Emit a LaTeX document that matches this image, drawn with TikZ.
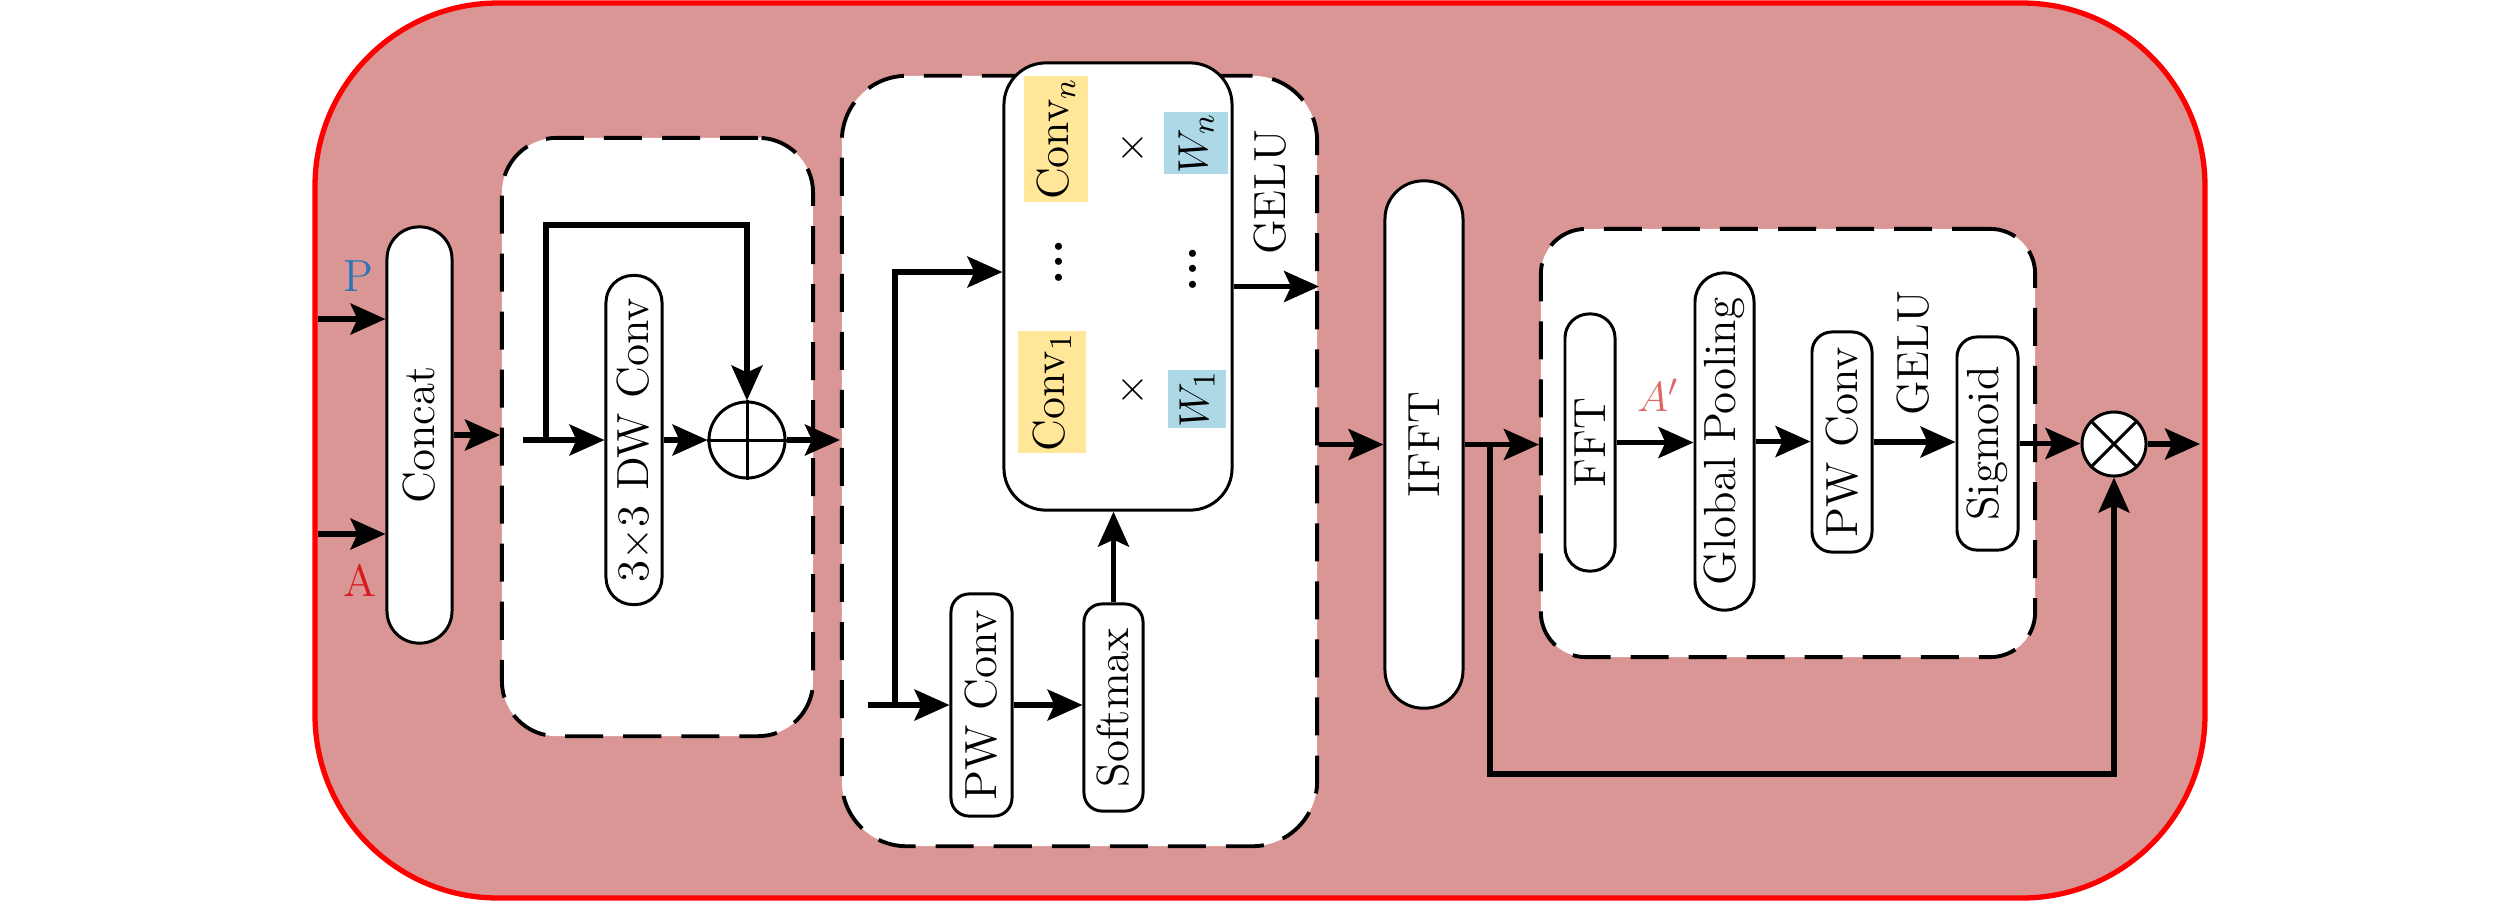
\documentclass[tikz,border=0pt]{standalone}
\usepackage{graphicx}
\usepackage{amsmath}
\usetikzlibrary{arrows.meta}
\definecolor{outerfill}{HTML}{D99694}
\definecolor{convy}{HTML}{FFE699}
\definecolor{wblue}{HTML}{ADD8E6}
\definecolor{pblue}{HTML}{2E75B6}
\definecolor{ared}{HTML}{D7191F}
\definecolor{aprime}{HTML}{E06666}
\newcommand\myfs{\fontsize{12.8}{15}\selectfont}
\tikzset{
  blk/.style={draw=black, fill=white, line width=0.85pt, inner sep=0pt, font=\myfs},
  dbox/.style={draw=black, fill=white, line width=1.1pt, dash pattern=on 0.38cm off 0.2cm, inner sep=0pt},
  arr/.style={line width=1.45pt, -{Stealth[length=0.35cm,width=0.31cm,inset=0.07cm]}},
  ln/.style={line width=1.45pt},
  hl/.style={inner sep=0pt, font=\myfs},
  lbl/.style={inner sep=0pt, font=\myfs},
  dts/.style={inner sep=0pt, font=\fontsize{14}{16}\selectfont\bfseries},
  opc/.style={circle, draw=black, fill=white, line width=0.85pt, inner sep=0pt},
}
\begin{document}
\begin{tikzpicture}[x=0.01cm,y=-0.01cm]
\useasboundingbox (0,0) rectangle (2520,905);
% outer frame
\draw[line width=1.5pt, draw=red, fill=outerfill, rounded corners=1.83cm] (315,3) rectangle (2205,898);

% dashed groups
\node[dbox, minimum width=3.11cm, minimum height=5.98cm, rounded corners=0.55cm] (box1) at (657.5,437) {};
\node[dbox, minimum width=4.75cm, minimum height=7.70cm, rounded corners=0.65cm] (box2) at (1079.5,461) {};
\node[dbox, minimum width=4.94cm, minimum height=4.28cm, rounded corners=0.45cm] (box3) at (1788,443) {};

% left part
\node[blk, minimum width=0.65cm, minimum height=4.16cm, rounded corners=0.32cm] (concat) at (419.5,435) {\rotatebox{90}{Concat}};
\node[lbl, text=pblue] (plbl) at (358,276) {P};
\node[lbl, text=ared] (albl) at (360,580) {A};
\coordinate (pin) at (318,319);
\coordinate (ain) at (318,534);
\draw[arr] (pin) -- (pin -| concat.west);
\draw[arr] (ain) -- (ain -| concat.west);
\draw[arr] (concat.east) -- (concat.east -| box1.west);

% box 1
\node[blk, minimum width=0.56cm, minimum height=3.29cm, rounded corners=0.27cm] (dw) at (634,440) {\rotatebox{90}{3$\times$3 DW Conv}};
\node[opc, minimum size=0.76cm] (plus) at (747,440) {};
\draw[line width=0.85pt] (plus.north) -- (plus.south) (plus.west) -- (plus.east);
\coordinate (in1) at (523,440);
\coordinate (sk) at (546,440);
\draw[ln] (in1) -- (sk);
\draw[arr] (sk) -- (dw.west);
\draw[arr] (sk) -- ++(0,-215) -| (plus.north);
\draw[arr] (dw.east) -- (plus.west);
\draw[arr] (plus.east) -- (plus.east -| box2.west);

% box 2
\node[draw=black, fill=white, line width=0.85pt, minimum width=2.28cm, minimum height=4.47cm, rounded corners=0.42cm] (inner) at (1118,286.5) {};
\node[hl, fill=convy, minimum width=0.63cm, minimum height=1.26cm] (cn) at (1056,139) {\rotatebox{90}{Conv$_n$}};
\node[hl, fill=wblue, minimum width=0.64cm, minimum height=0.62cm] (wn) at (1196,143) {\rotatebox{90}{$W_n$}};
\node[lbl] (xn) at (1133,148) {$\times$};
\node[dts] (d1) at (1059,262) {\rotatebox{90}{...}};
\node[dts] (d2) at (1193,269) {\rotatebox{90}{...}};
\node[hl, fill=convy, minimum width=0.68cm, minimum height=1.22cm] (c1) at (1052,392) {\rotatebox{90}{Conv$_1$}};
\node[hl, fill=wblue, minimum width=0.58cm, minimum height=0.58cm] (w1) at (1197,399) {\rotatebox{90}{$W_1$}};
\node[lbl] (x1) at (1133,390) {$\times$};
\node[lbl] (gelu1) at (1270,192) {\rotatebox{90}{GELU}};
\node[blk, minimum width=0.61cm, minimum height=2.22cm, rounded corners=0.18cm] (pw1) at (981.5,705) {\rotatebox{90}{PW Conv}};
\node[blk, minimum width=0.59cm, minimum height=2.07cm, rounded corners=0.18cm] (soft) at (1113.5,707.5) {\rotatebox{90}{Softmax}};
\coordinate (in2) at (868,705);
\coordinate (br2) at (895,705);
\draw[ln] (in2) -- (br2);
\draw[arr] (br2) -- (pw1.west);
\draw[arr] (br2) |- ([yshift=0.145cm]inner.west);
\draw[arr] (pw1.east) -- (pw1.east -| soft.west);
\draw[arr] (soft.north) -- (soft.north |- inner.south);
\draw[arr] (inner.east) -- (inner.east -| box2.east);

% IFFT
\node[blk, minimum width=0.78cm, minimum height=5.27cm, rounded corners=0.38cm] (ifft) at (1424,444.5) {\rotatebox{90}{IFFT}};
\draw[arr] (box2.east |- ifft.west) -- (ifft.west);
\draw[arr] (ifft.east) -- (ifft.east -| box3.west);

% box 3
\node[blk, minimum width=0.50cm, minimum height=2.57cm, rounded corners=0.24cm] (fft) at (1590,442.5) {\rotatebox{90}{FFT}};
\node[blk, minimum width=0.59cm, minimum height=3.37cm, rounded corners=0.29cm] (gp) at (1724.5,441.5) {\rotatebox{90}{Global Pooling}};
\node[blk, minimum width=0.60cm, minimum height=2.20cm, rounded corners=0.2cm] (pw2) at (1842,442) {\rotatebox{90}{PW Conv}};
\node[blk, minimum width=0.61cm, minimum height=2.13cm, rounded corners=0.2cm] (sig) at (1987.5,443.5) {\rotatebox{90}{Sigmoid}};
\node[lbl, text=aprime] (ap) at (1658,395) {$A'$};
\node[lbl] (gelu2) at (1913,353) {\rotatebox{90}{GELU}};
\node[opc, minimum size=0.64cm] (times) at (2114,444) {};
\draw[line width=0.85pt] (times.north west) -- (times.south east) (times.north east) -- (times.south west);
\draw[arr] (fft.east) -- (fft.east -| gp.west);
\draw[arr] (gp.east) -- (gp.east -| pw2.west);
\draw[arr] (pw2.east) -- (pw2.east -| sig.west);
\draw[arr] (sig.east) -- (sig.east -| times.west);
\coordinate (out) at (2200,444);
\draw[arr] (times.east) -- (out);
\coordinate (br3) at (1490,444.5);
\coordinate (low) at (1490,774);
\draw[arr] (br3) -- (low) -| (times.south);
\end{tikzpicture}
\end{document}
